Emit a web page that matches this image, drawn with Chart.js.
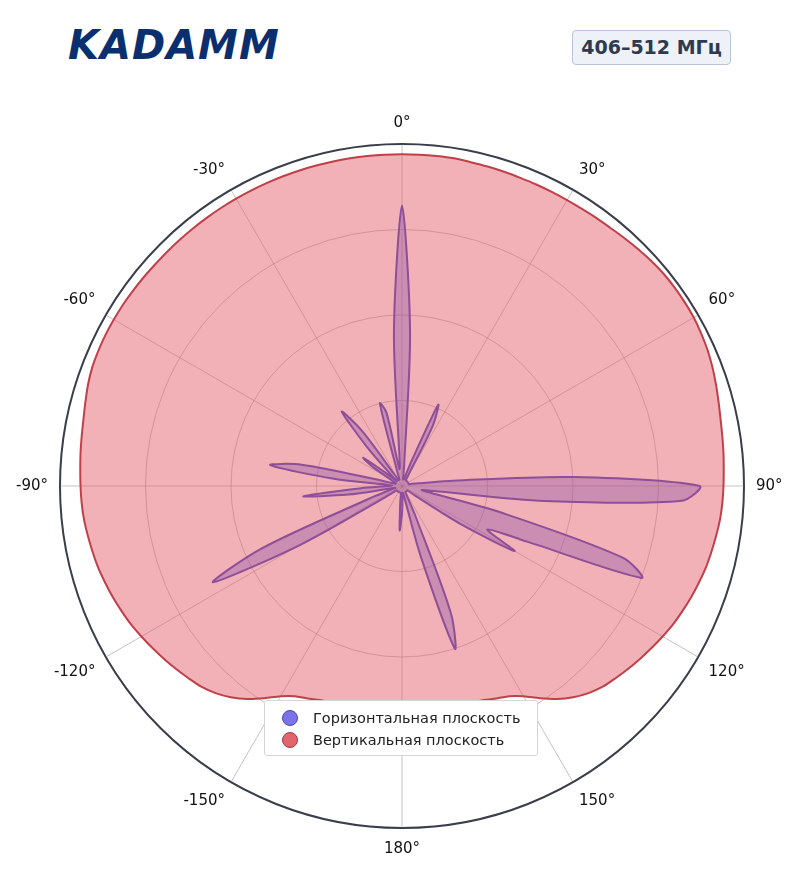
<!DOCTYPE html>
<html>
<head>
<meta charset="utf-8">
<script src="https://cdn.jsdelivr.net/npm/chart.js@4"></script>
<style>
  body { margin: 0; background: #fff; font-family: "DejaVu Sans", sans-serif; }
  #wrap { position: absolute; left: 0; top: 95px; width: 800px; height: 783px; }
  .logo { position: absolute; left: 68px; top: 22px; font: italic bold 40px "DejaVu Sans"; color: #0b2f6e; letter-spacing: 1px; }
  .badge { position: absolute; left: 572px; top: 30px; width: 159px; height: 35px; box-sizing: border-box;
           background: #eef2f8; border: 1px solid #b8c4d8; border-radius: 4px; color: #2d3a4f;
           font: bold 19px "DejaVu Sans"; text-align: center; line-height: 33px; }
  .legend { position: absolute; left: 264px; top: 700px; width: 274px; height: 56px; box-sizing: border-box;
            background: #fff; border: 1px solid #d6d6d6; border-radius: 3px; font-size: 14.5px; color: #222; padding-top: 6px; }
  .legend div { height: 22px; line-height: 22px; padding-left: 48px; position: relative; }
  .legend i { position: absolute; left: 17px; top: 3px; width: 14px; height: 14px; border-radius: 50%; }
</style>
</head>
<body>
<div class="logo">KADAMM</div>
<div class="badge">406–512 МГц</div>
<div id="wrap"><canvas id="c"></canvas></div>
<div class="legend">
  <div><i style="background:#7b74e8;border:1px solid #4a44b0"></i>Горизонтальная плоскость</div>
  <div><i style="background:#e0656c;border:1px solid #a83840"></i>Вертикальная плоскость</div>
</div>
<script>
// angles 0..357 step 3 degrees
const angles = Array.from({length: 120}, (_, i) => i * 3);

const horizontal = [
  82, 45, 6, 2, 2, 2, 3, 8, 26, 20,
  4, 2, 2, 2, 2, 2, 2, 2, 2, 2,
  2, 2, 2, 2, 2, 2, 3, 5, 15, 50,
  87, 82, 42, 10, 6, 30, 68, 75, 40, 28,
  38, 20, 5, 2, 2, 2, 2, 2, 2, 2,
  2, 3, 10, 40, 50, 22, 4, 2, 2, 3,
  8, 13, 5, 2, 2, 2, 2, 2, 2, 2,
  2, 2, 2, 2, 2, 2, 2, 2, 3, 8,
  35, 62, 45, 10, 3, 2, 4, 16, 29, 12,
  4, 3, 20, 39, 30, 6, 2, 2, 2, 3,
  4, 10, 14, 6, 2, 4, 15, 28, 20, 4,
  2, 2, 2, 2, 5, 25, 22, 5, 6, 45
];

const vertical = [
  97, 97, 97, 97, 96.8, 96.7, 96.6, 96.5, 96.5, 96.5,
  96.5, 96.6, 96.8, 97, 97.4, 97.8, 98.2, 98.5, 98.6, 98.6,
  98.5, 98.2, 97.8, 97.2, 96.5, 95.8, 95.2, 94.8, 94.5, 94.2,
  94, 93.8, 93.5, 93, 92.5, 92, 91.3, 90.6, 89.8, 89,
  88, 87, 86, 85, 84, 83, 81.5, 79.5, 77, 74,
  71, 69, 68, 67, 66.5, 66, 66, 66, 66, 66,
  66, 66, 66, 66, 66, 66, 66.5, 67, 68, 69,
  71, 74, 77, 79.5, 81.5, 83, 84, 85, 86, 87,
  88, 89, 89.8, 90.6, 91.3, 92, 92.5, 93, 93.5, 93.8,
  94, 94.2, 94.5, 94.8, 95.2, 95.8, 96.5, 97, 97.2, 97.3,
  97.3, 97.3, 97.2, 97.1, 97, 97, 97, 97, 97, 97,
  97, 97, 97, 97, 97, 97, 97, 97, 97, 97
];

const labels = angles.map(a => a % 30 ? '' : (a <= 180 ? a + '°' : (a - 360) + '°'));

new Chart(document.getElementById('c'), {
  type: 'radar',
  data: {
    labels: labels,
    datasets: [
      {
        label: 'Горизонтальная плоскость',
        data: horizontal,
        backgroundColor: 'rgba(150, 90, 170, 0.42)',
        borderColor: '#8e4f98',
        borderWidth: 2,
        pointRadius: 0,
        tension: 0.3
      },
      {
        label: 'Вертикальная плоскость',
        data: vertical,
        backgroundColor: 'rgba(230, 100, 110, 0.5)',
        borderColor: '#c0404a',
        borderWidth: 2,
        pointRadius: 0,
        tension: 0.3
      }
    ]
  },
  options: {
    responsive: true,
    maintainAspectRatio: false,
    animation: false,
    layout: { padding: { left: 14, right: 14 } },
    plugins: { legend: { display: false }, tooltip: { enabled: false } },
    scales: {
      r: {
        min: 0,
        max: 100,
        ticks: { display: false, stepSize: 25 },
        grid: {
          circular: true,
          color: ctx => ctx.index === 4 ? '#3a3d4a' : 'rgba(120,120,120,0.45)',
          lineWidth: ctx => ctx.index === 4 ? 2 : 1
        },
        angleLines: {
          color: ctx => ctx.index % 10 === 0 ? 'rgba(120,120,120,0.45)' : 'rgba(0,0,0,0)'
        },
        pointLabels: { font: { size: 15, family: 'DejaVu Sans' }, color: '#111', padding: 12 }
      }
    }
  }
});
</script>
</body>
</html>
